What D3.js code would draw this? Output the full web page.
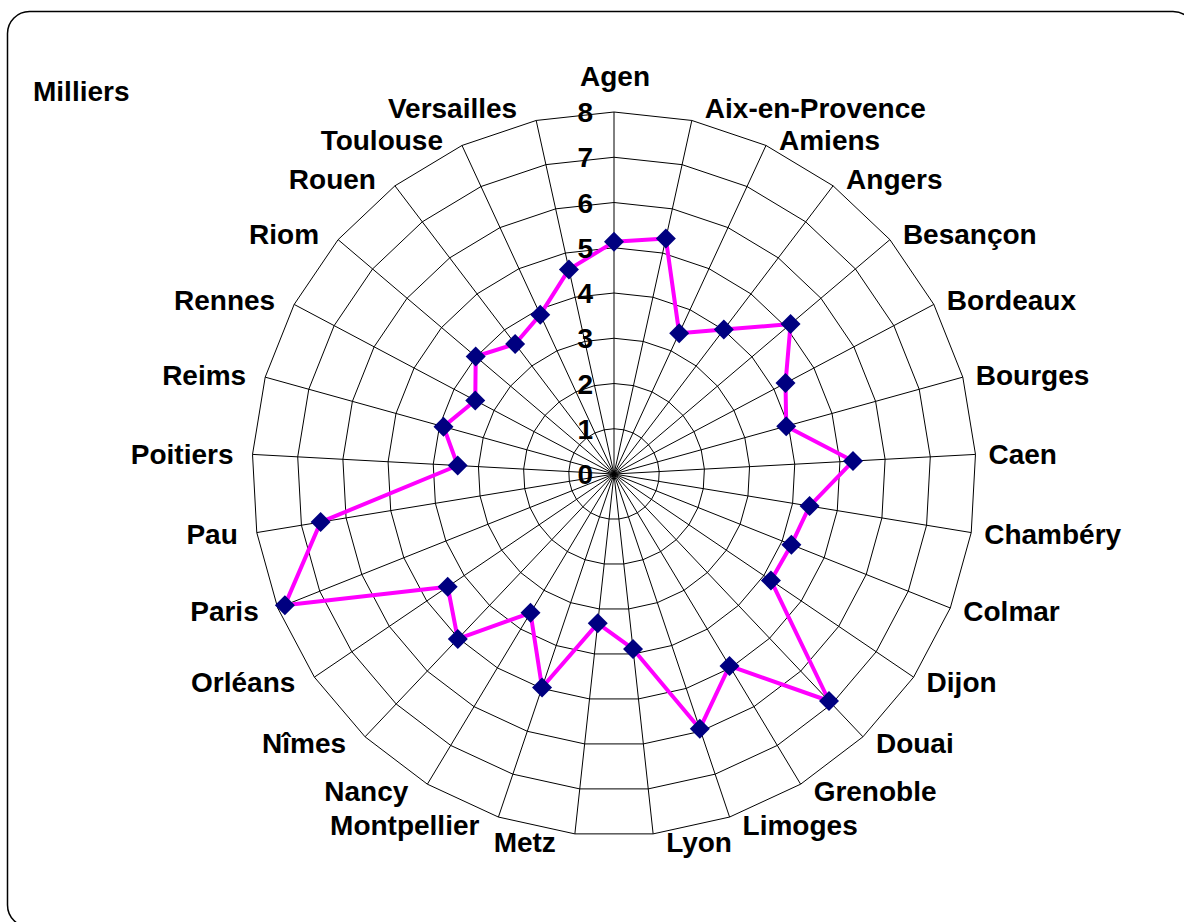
<!DOCTYPE html>
<html>
<head>
<meta charset="utf-8">
<script src="https://cdn.jsdelivr.net/npm/d3@7"></script>
<style>
  html, body { margin: 0; padding: 0; background: #ffffff; }
  svg { display: block; }
  text { font-family: "Liberation Sans", Arial, sans-serif; font-weight: bold; fill: #000; }
</style>
</head>
<body>
<svg id="chart" width="1184" height="922"></svg>
<script>
// ---- data ----
const categories = ["Agen","Aix-en-Provence","Amiens","Angers","Besançon","Bordeaux","Bourges","Caen",
  "Chambéry","Colmar","Dijon","Douai","Grenoble","Limoges","Lyon","Metz","Montpellier","Nancy",
  "Nîmes","Orléans","Paris","Pau","Poitiers","Reims","Rennes","Riom","Rouen","Toulouse","Versailles"];
const values = [5.13,5.33,3.43,4.01,5.12,4.29,3.95,5.29,4.38,4.22,4.19,6.91,4.95,5.94,3.89,3.32,
  4.98,3.58,5.02,4.44,7.83,6.57,3.46,3.91,3.47,4.01,3.61,3.88,4.63];
const tickValues = [0,1,2,3,4,5,6,7,8];
const unitLabel = "Milliers";

// ---- layout ----
const W = 1184, H = 922;
const cx = 614, cy = 474, R = 362;
const svg = d3.select("#chart");

svg.append("rect")
  .attr("x", 7.5).attr("y", 11.5)
  .attr("width", 1187.5).attr("height", 915.5)
  .attr("rx", 22).attr("ry", 22)
  .attr("fill", "none").attr("stroke", "#000").attr("stroke-width", 1.5);

const n = categories.length;
const r = d3.scaleLinear().domain([0, 8]).range([0, R]);
const ang = d3.scaleLinear().domain([0, n]).range([0, 2 * Math.PI]);
const px = (i, v) => cx + r(v) * Math.sin(ang(i));
const py = (i, v) => cy - r(v) * Math.cos(ang(i));

const g = svg.append("g");

// rings
const ringLine = d3.line().x(d => d[0]).y(d => d[1]).curve(d3.curveLinearClosed);
tickValues.filter(t => t > 0).forEach(t => {
  g.append("path")
    .attr("d", ringLine(d3.range(n).map(i => [px(i, t), py(i, t)])))
    .attr("fill", "none").attr("stroke", "#000").attr("stroke-width", 1);
});
// spokes
g.selectAll("line.spoke").data(d3.range(n)).join("line")
  .attr("class", "spoke")
  .attr("x1", cx).attr("y1", cy)
  .attr("x2", i => px(i, 8)).attr("y2", i => py(i, 8))
  .attr("stroke", "#000").attr("stroke-width", 1);

// series line
const pts = values.map((v, i) => [px(i, v), py(i, v)]);
g.append("path")
  .attr("d", ringLine(pts))
  .attr("fill", "none").attr("stroke", "#FF00FF").attr("stroke-width", 4)
  .attr("stroke-linejoin", "round");

// markers
const sym = d3.symbol().type(d3.symbolSquare).size(200);
g.selectAll("path.mk").data(pts).join("path")
  .attr("class", "mk")
  .attr("d", sym())
  .attr("transform", d => `translate(${d[0]},${d[1]}) rotate(45)`)
  .attr("fill", "#000080");

// tick labels
g.selectAll("text.tick").data(tickValues).join("text")
  .attr("class", "tick")
  .attr("x", cx - 21)
  .attr("y", t => cy - r(t) + 10)
  .attr("text-anchor", "end")
  .style("font-size", "28px")
  .text(t => t);

// category labels
g.selectAll("text.cat").data(categories).join("text")
  .attr("class", "cat")
  .each(function(c, i) {
    const a = ang(i), s = Math.sin(a), co = Math.cos(a);
    const vx = px(i, 8), vy = py(i, 8);
    const k = co > 0.95 ? 12.5 : (co > 0.85 ? 5.5 : 8.5);
    let x, y, anchor;
    if (Math.abs(s) < 0.05) {
      anchor = "middle"; x = vx + 1; y = vy - 36;
    } else if (s > 0) {
      anchor = "start"; x = vx + 13; y = vy - k * co;
    } else {
      anchor = "end"; x = vx - 19; y = vy - k * co;
    }
    d3.select(this).attr("x", x).attr("y", y + 10).attr("text-anchor", anchor);
  })
  .style("font-size", "28px")
  .text(c => c);

// unit label
svg.append("text")
  .attr("x", 33).attr("y", 101)
  .style("font-size", "28px")
  .text(unitLabel);
</script>
</body>
</html>
